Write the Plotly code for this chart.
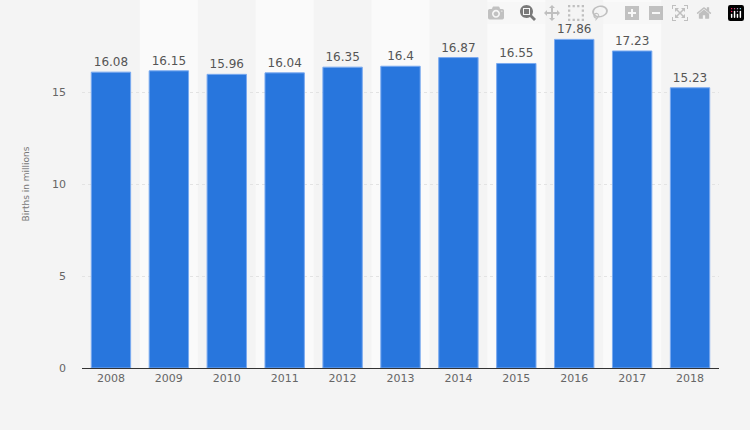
import plotly.graph_objects as go

years = ["2008", "2009", "2010", "2011", "2012", "2013", "2014", "2015", "2016", "2017", "2018"]
births = [16.08, 16.15, 15.96, 16.04, 16.35, 16.4, 16.87, 16.55, 17.86, 17.23, 15.23]

fig = go.Figure(go.Bar(
    x=years, y=births,
    text=[str(b) for b in births], textposition="outside",
    textfont=dict(size=12, color="#555"),
    marker=dict(color="#2876dd", line=dict(color="#7aaaf0", width=1)),
    width=0.68, cliponaxis=False,
))

# lighter bands behind every second category
shapes = []
for i in range(1, len(years), 2):
    shapes.append(dict(type="rect", xref="x", yref="paper", x0=i - 0.5, x1=i + 0.5,
                       y0=0, y1=1, fillcolor="#fafafa", line_width=0, layer="below"))

fig.update_layout(
    width=750, height=430,
    margin=dict(l=82, r=31, t=0, b=62),
    paper_bgcolor="#f4f4f4", plot_bgcolor="#f4f4f4",
    font=dict(family="DejaVu Sans", color="#666", size=11),
    shapes=shapes, showlegend=False,
    xaxis=dict(type="category", range=[-0.5, 10.5], showgrid=False,
               showline=True, linecolor="#333", linewidth=1, ticks=""),
    yaxis=dict(range=[0, 20], dtick=5, gridcolor="#e3e3e3", griddash="dot",
               zeroline=False, ticks="", ticklabelstandoff=15,
               title=dict(text="Births in millions", font=dict(size=9, color="#777"), standoff=20)),
)
fig.write_html("out.html", post_script="document.body.style.margin='0';document.body.style.background='#f4f4f4';")
